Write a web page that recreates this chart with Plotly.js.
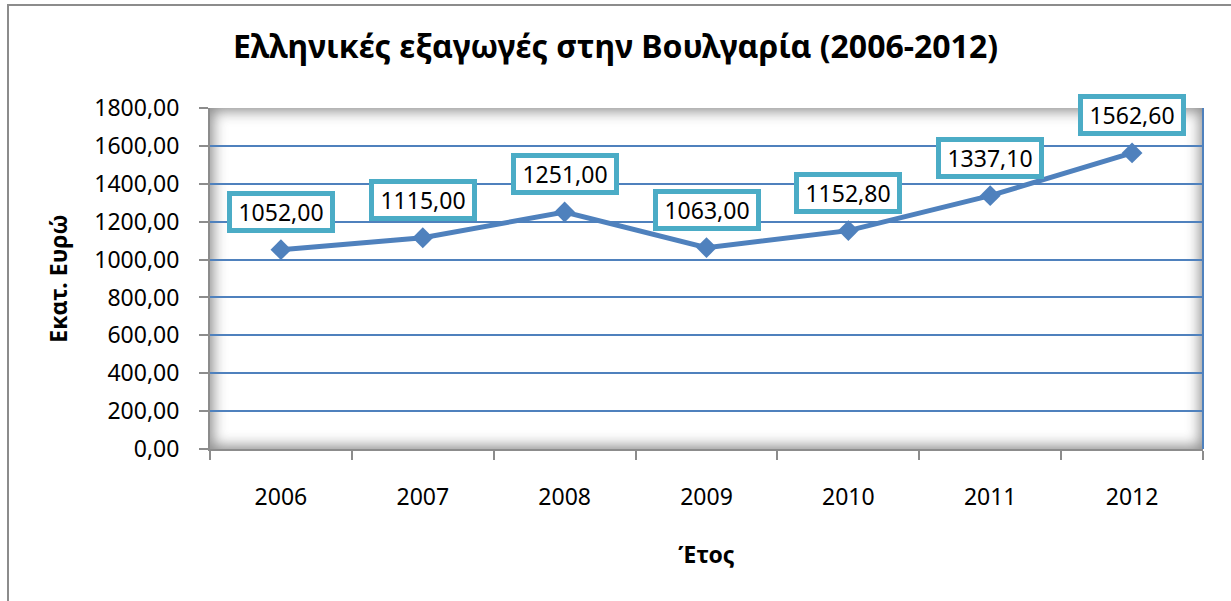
<!DOCTYPE html>
<html>
<head>
<meta charset="utf-8">
<script src="https://cdn.plot.ly/plotly-3.0.1.min.js"></script>
<style>
  html, body { margin: 0; padding: 0; background: #ffffff; }
  #wrap { position: relative; width: 1231px; height: 601px; overflow: hidden; }
  #frame { position: absolute; left: 7px; top: 4px; width: 1300px; height: 700px;
           border-left: 2px solid #8c8c8c; border-top: 2px solid #8c8c8c; }
  #shade { position: absolute; left: 210px; top: 108px; width: 993px; height: 341px;
           background: #ffffff; box-shadow: inset 0 0 14px 3px rgba(60,60,60,0.6); }
  #chart { position: absolute; left: 0; top: 0; width: 1231px; height: 601px; }
</style>
</head>
<body>
<div id="wrap">
  <div id="frame"></div>
  <div id="shade"></div>
  <div id="chart"></div>
</div>
<script>
const years = ['2006', '2007', '2008', '2009', '2010', '2011', '2012'];
const exportsMillion = [1052.00, 1115.00, 1251.00, 1063.00, 1152.80, 1337.10, 1562.60];
const yTickValues = [0, 200, 400, 600, 800, 1000, 1200, 1400, 1600, 1800];
const chartTitle = 'Ελληνικές εξαγωγές στην Βουλγαρία (2006-2012)';
const xTitle = 'Έτος';
const yTitle = 'Εκατ. Ευρώ';

const blue = '#4F81BD';
const teal = '#4BACC6';
const fontFam = '"Noto Sans", "Open Sans", sans-serif';

function fmt(v) { return v.toFixed(2).replace('.', ','); }

const trace = {
  x: years,
  y: exportsMillion,
  type: 'scatter',
  mode: 'lines+markers',
  line: { color: blue, width: 5 },
  marker: { symbol: 'diamond', size: 16, color: blue },
  hoverinfo: 'skip',
  cliponaxis: false
};

// category axis: annotation x given as category index
const annotations = years.map((yr, i) => ({
  x: i, y: exportsMillion[i], xref: 'x', yref: 'y',
  text: fmt(exportsMillion[i]),
  showarrow: false,
  yshift: 38,
  width: 94, height: 28,
  font: { family: fontFam, size: 23, color: '#000000' },
  bgcolor: '#ffffff',
  bordercolor: teal,
  borderwidth: 5,
  borderpad: 2
}));

const layout = {
  width: 1231, height: 601,
  margin: { l: 210, r: 28, t: 108, b: 152 },
  paper_bgcolor: 'rgba(0,0,0,0)',
  plot_bgcolor: 'rgba(0,0,0,0)',
  separators: ', ',
  showlegend: false,
  title: {
    text: chartTitle,
    font: { family: fontFam, size: 32, color: '#000000', weight: 'bold' },
    x: 0.5, xref: 'container', xanchor: 'center',
    y: 1 - 47 / 601, yref: 'container', yanchor: 'middle'
  },
  xaxis: {
    type: 'category',
    categoryarray: years, categoryorder: 'array',
    range: [-0.5, years.length - 0.5],
    autorange: false,
    tickson: 'boundaries',
    ticks: 'outside', ticklen: 9, tickcolor: '#8c8c8c', tickwidth: 2,
    showline: true, linecolor: '#8c8c8c', linewidth: 2,
    showgrid: false, zeroline: false,
    tickfont: { family: fontFam, size: 23, color: '#000000' },
    tickangle: 0,
    ticklabelstandoff: 26,
    title: { text: xTitle, font: { family: fontFam, size: 23, color: '#000000', weight: 'bold' }, standoff: 36 },
    fixedrange: true
  },
  yaxis: {
    range: [0, 1800],
    autorange: false,
    tickvals: yTickValues,
    ticktext: yTickValues.map(fmt),
    ticks: 'outside', ticklen: 9, tickcolor: '#8c8c8c', tickwidth: 2,
    showline: true, linecolor: '#8c8c8c', linewidth: 2,
    showgrid: true, gridcolor: blue, gridwidth: 2,
    zeroline: false,
    tickfont: { family: fontFam, size: 23, color: '#000000' },
    ticklabelstandoff: 15,
    title: { text: yTitle, font: { family: fontFam, size: 23, color: '#000000', weight: 'bold' }, standoff: 20 },
    fixedrange: true
  },
  shapes: [
    { type: 'line', xref: 'paper', yref: 'paper', x0: 1, x1: 1, y0: 0, y1: 1,
      line: { color: blue, width: 2 }, layer: 'below' }
  ],
  annotations: annotations
};

Plotly.newPlot('chart', [trace], layout, { displayModeBar: false, staticPlot: true });
</script>
</body>
</html>
